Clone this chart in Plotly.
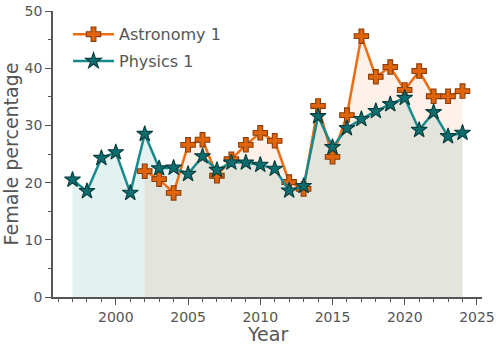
import plotly.graph_objects as go

# Female share of first-year cohorts, by year
phys_years = list(range(1997, 2025))
phys_vals = [20.5, 18.5, 24.3, 25.3, 18.2, 28.5, 22.5, 22.6, 21.5, 24.6,
             22.2, 23.5, 23.5, 23.1, 22.4, 18.6, 19.4, 31.6, 26.2, 29.5,
             31.1, 32.5, 33.7, 34.8, 29.2, 32.3, 28.1, 28.7]

astro_years = list(range(2002, 2025))
astro_vals = [22.0, 20.6, 18.2, 26.6, 27.5, 21.2, 24.1, 26.6, 28.7, 27.3,
              20.1, 18.9, 33.4, 24.5, 31.8, 45.6, 38.5, 40.2, 36.2, 39.5,
              35.1, 35.1, 36.0]

x_ticks = [2000, 2005, 2010, 2015, 2020, 2025]
y_ticks = [0, 10, 20, 30, 40, 50]

ORANGE_LINE = "#ec6d12"
ORANGE_FILL = "#e0640c"
ORANGE_EDGE = "#8a3d0a"
TEAL_LINE = "#17898a"
TEAL_FILL = "#0d6e6f"
TEAL_EDGE = "#083c3c"
TEXT = "#555555"
AXIS = "#555555"

fig = go.Figure()

# shaded areas under each series
fig.add_trace(go.Scatter(x=phys_years, y=phys_vals, mode="none", fill="tozeroy",
                         fillcolor="rgba(0,128,128,0.11)", showlegend=False,
                         hoverinfo="skip"))
fig.add_trace(go.Scatter(x=astro_years, y=astro_vals, mode="none", fill="tozeroy",
                         fillcolor="rgba(232,100,16,0.09)", showlegend=False,
                         hoverinfo="skip"))

fig.add_trace(go.Scatter(
    x=astro_years, y=astro_vals, mode="lines+markers", name="Astronomy 1",
    legendrank=1, legendgroup="a",
    line=dict(color=ORANGE_LINE, width=2.5),
    marker=dict(symbol="cross", size=12, color=ORANGE_FILL,
                line=dict(color=ORANGE_EDGE, width=1.1)),
))
fig.add_trace(go.Scatter(
    x=phys_years, y=phys_vals, mode="lines+markers", name="Physics 1",
    legendrank=2, legendgroup="p",
    line=dict(color=TEAL_LINE, width=2.5),
    marker=dict(symbol="star", size=12, color=TEAL_FILL,
                line=dict(color=TEAL_EDGE, width=1.1)),
))

axis_common = dict(
    showline=True, linecolor=AXIS, linewidth=1.5, mirror=False,
    showgrid=False, zeroline=False, automargin=False,
    ticks="outside", ticklen=6, tickwidth=1.3, tickcolor=AXIS,
    tickfont=dict(family="DejaVu Sans", size=14, color=TEXT),
)

fig.update_layout(
    width=500, height=348,
    margin=dict(l=53, r=18, t=11, b=51),
    paper_bgcolor="white", plot_bgcolor="white",
    font=dict(family="DejaVu Sans", color=TEXT),
    xaxis=dict(
        range=[1995.65, 2025.35], tickvals=x_ticks,
        minor=dict(ticks="outside", dtick=1, tick0=1995, ticklen=3,
                   tickwidth=1, tickcolor=AXIS),
        **axis_common,
    ),
    yaxis=dict(
        range=[0, 50], tickvals=y_ticks,
        title=dict(text="Female percentage", font=dict(size=19, color=TEXT),
                   standoff=7),
        minor=dict(ticks="outside", dtick=5, tick0=0, ticklen=3,
                   tickwidth=1, tickcolor=AXIS),
        **axis_common,
    ),
    legend=dict(
        x=0.035, y=0.978, xanchor="left", yanchor="top",
        bgcolor="rgba(255,255,255,0)", borderwidth=0,
        font=dict(family="DejaVu Sans", size=16, color=TEXT),
        traceorder="grouped", tracegroupgap=3, itemwidth=41,
    ),
    annotations=[dict(
        text="Year", xref="paper", yref="paper", x=0.5, y=-0.131,
        xanchor="center", yanchor="middle", showarrow=False,
        font=dict(family="DejaVu Sans", size=19, color=TEXT),
    )],
)

fig.write_html("out.html")
